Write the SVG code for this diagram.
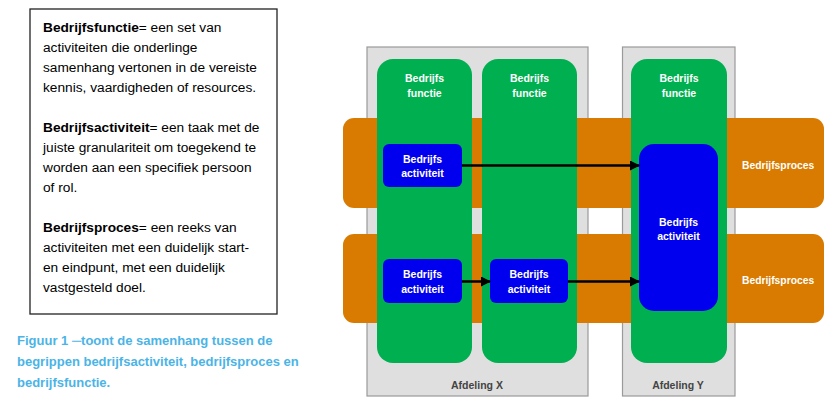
<svg xmlns="http://www.w3.org/2000/svg" width="833" height="401" viewBox="0 0 833 401">
<defs>
<style>
.body{font-family:"Liberation Sans",Arial,sans-serif;font-size:13.7px;fill:#000}
.b{font-weight:bold}
.cap{font-family:"Liberation Sans",Arial,sans-serif;font-size:13px;font-weight:bold;fill:#4bb4e6}
.dept{fill:#dfdfdf;stroke:#9a9a9a;stroke-width:1.2}
.band{fill:#d87b00}
.func{fill:#00b050}
.act{fill:#0000ee}
.lbl{font-family:"Liberation Sans",Arial,sans-serif;font-size:10.5px;font-weight:bold;fill:#fff;text-anchor:middle}
.lblL{font-family:"Liberation Sans",Arial,sans-serif;font-size:10.3px;font-weight:bold;fill:#fff}
.dlbl{font-family:"Liberation Sans",Arial,sans-serif;font-size:10.5px;font-weight:bold;fill:#444;text-anchor:middle}
.conn{stroke:#000;stroke-width:2.5;fill:none;marker-end:url(#ah)}
</style>
<marker id="ah" viewBox="0 0 10 10" refX="9" refY="5" markerWidth="4" markerHeight="4" orient="auto" markerUnits="strokeWidth">
<path d="M0,0 L10,5 L0,10 z" fill="#000"/>
</marker>
</defs>
<rect width="833" height="401" fill="#fff"/>

<g id="definitions">
<rect x="30" y="9" width="247" height="305" fill="#fff" stroke="#222" stroke-width="1.3"/>
<text class="body" x="43" y="32"><tspan class="b">Bedrijfsfunctie</tspan>= een set van</text>
<text class="body" x="43" y="52">activiteiten die onderlinge</text>
<text class="body" x="43" y="72">samenhang vertonen in de vereiste</text>
<text class="body" x="43" y="92">kennis, vaardigheden of resources.</text>
<text class="body" x="43" y="132"><tspan class="b">Bedrijfsactiviteit</tspan>= een taak met de</text>
<text class="body" x="43" y="152">juiste granulariteit om toegekend te</text>
<text class="body" x="43" y="172">worden aan een specifiek persoon</text>
<text class="body" x="43" y="192">of rol.</text>
<text class="body" x="43" y="232"><tspan class="b">Bedrijfsproces</tspan>= een reeks van</text>
<text class="body" x="43" y="252">activiteiten met een duidelijk start-</text>
<text class="body" x="43" y="272">en eindpunt, met een duidelijk</text>
<text class="body" x="43" y="292">vastgesteld doel.</text>
</g>

<g id="caption">
<text class="cap" x="17" y="345">Figuur 1 ─toont de samenhang tussen de</text>
<text class="cap" x="17" y="366">begrippen bedrijfsactiviteit, bedrijfsproces en</text>
<text class="cap" x="17" y="387">bedrijfsfunctie.</text>
</g>

<g id="afdeling-x">
<rect class="dept" x="367" y="47" width="221" height="349"/>
<text class="dlbl" x="477" y="389">Afdeling X</text>
</g>
<g id="afdeling-y">
<rect class="dept" x="622.5" y="47" width="112.5" height="349"/>
<text class="dlbl" x="678" y="389">Afdeling Y</text>
</g>

<g id="proces-1">
<rect class="band" x="343" y="118" width="481" height="90" rx="11"/>
<text class="lblL" x="742" y="169">Bedrijfsproces</text>
</g>
<g id="proces-2">
<rect class="band" x="343" y="234" width="481" height="89" rx="11"/>
<text class="lblL" x="742" y="284">Bedrijfsproces</text>
</g>

<g id="functie-1">
<rect class="func" x="377" y="59" width="95" height="304" rx="16"/>
<text class="lbl" x="424.5" y="82">Bedrijfs</text>
<text class="lbl" x="424.5" y="97">functie</text>
</g>
<g id="functie-2">
<rect class="func" x="482" y="59" width="95" height="304" rx="16"/>
<text class="lbl" x="529.5" y="82">Bedrijfs</text>
<text class="lbl" x="529.5" y="97">functie</text>
</g>
<g id="functie-3">
<rect class="func" x="631" y="59" width="96" height="304" rx="16"/>
<text class="lbl" x="679" y="82">Bedrijfs</text>
<text class="lbl" x="679" y="97">functie</text>
</g>

<g id="activiteit-1">
<rect class="act" x="383" y="144" width="79" height="43" rx="6"/>
<text class="lbl" x="422.5" y="163">Bedrijfs</text>
<text class="lbl" x="422.5" y="177">activiteit</text>
</g>
<g id="activiteit-2">
<rect class="act" x="383" y="259" width="79" height="44" rx="6"/>
<text class="lbl" x="422.5" y="278">Bedrijfs</text>
<text class="lbl" x="422.5" y="293">activiteit</text>
</g>
<g id="activiteit-3">
<rect class="act" x="490" y="259" width="78" height="44" rx="6"/>
<text class="lbl" x="529" y="278">Bedrijfs</text>
<text class="lbl" x="529" y="293">activiteit</text>
</g>
<g id="activiteit-4">
<rect class="act" x="639" y="144" width="79" height="167" rx="15"/>
<text class="lbl" x="678.5" y="226">Bedrijfs</text>
<text class="lbl" x="678.5" y="240">activiteit</text>
</g>

<g id="connectors">
<line class="conn" x1="462" y1="165.5" x2="639" y2="165.5"/>
<line class="conn" x1="462" y1="281.5" x2="490" y2="281.5"/>
<line class="conn" x1="568" y1="281.5" x2="639" y2="281.5"/>
</g>
</svg>
